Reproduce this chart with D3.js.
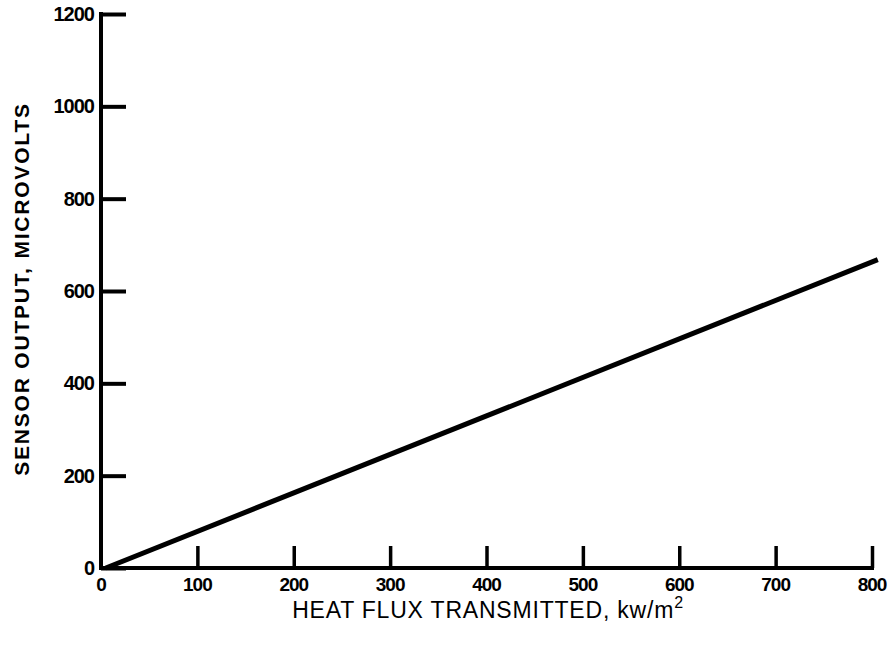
<!DOCTYPE html>
<html>
<head>
<meta charset="utf-8">
<script src="https://cdn.jsdelivr.net/npm/d3@7"></script>
<style>
body { margin: 0; background: #fff; }
text { font-family: "Liberation Sans", Arial, sans-serif; fill: #000; }
</style>
</head>
<body>
<div id="chart"></div>
<script>
var xTicks = [0, 100, 200, 300, 400, 500, 600, 700, 800];
var yTicks = [0, 200, 400, 600, 800, 1000, 1200];
var fluxValues = [5, 806];
var outputValues = [0, 668];

var width = 891, height = 646;
var svg = d3.select("#chart").append("svg")
	.attr("width", width)
	.attr("height", height);

var x = d3.scaleLinear().domain([0, 800]).range([101, 872]);
var y = d3.scaleLinear().domain([0, 1200]).range([568, 14]);

// y axis, ticks point right into the plot
var yAxis = d3.axisRight(y).tickValues(yTicks).tickSize(25).tickFormat("");
var gy = svg.append("g").attr("transform", "translate(" + x(0) + ",0)").call(yAxis);
gy.select(".domain").remove();
gy.selectAll(".tick line").attr("stroke", "#000").attr("stroke-width", 4);
svg.append("line")
	.attr("x1", x(0)).attr("x2", x(0))
	.attr("y1", y(1200) - 2).attr("y2", y(0) + 2)
	.attr("stroke", "#000").attr("stroke-width", 4);

svg.selectAll(".ylab").data(yTicks).enter().append("text")
	.attr("x", x(0) - 7)
	.attr("y", function(d){ return y(d) + 7; })
	.style("text-anchor", "end")
	.style("font-size", "20px")
	.style("font-weight", "bold")
	.style("letter-spacing", "-1px")
	.text(function(d){ return d; });

// x axis, ticks point up
var xAxis = d3.axisTop(x).tickValues(xTicks.slice(1)).tickSize(22).tickFormat("");
var gx = svg.append("g").attr("transform", "translate(0," + y(0) + ")").call(xAxis);
gx.select(".domain").remove();
gx.selectAll(".tick line").attr("stroke", "#000").attr("stroke-width", 3.5);
svg.append("line")
	.attr("x1", x(0) - 2).attr("x2", x(800) + 2)
	.attr("y1", y(0)).attr("y2", y(0))
	.attr("stroke", "#000").attr("stroke-width", 4);

svg.selectAll(".xlab").data(xTicks).enter().append("text")
	.attr("x", function(d){ return x(d); })
	.attr("y", y(0) + 23)
	.style("text-anchor", "middle")
	.style("font-size", "19px")
	.style("font-weight", "bold")
	.style("letter-spacing", "-1px")
	.text(function(d){ return d; });

// response line
var pts = fluxValues.map(function(d, i){ return [d, outputValues[i]]; });
svg.append("path")
	.attr("d", d3.line().x(function(d){ return x(d[0]); }).y(function(d){ return y(d[1]); })(pts))
	.attr("fill", "none")
	.attr("stroke", "#000")
	.attr("stroke-width", 5);

// axis titles
var xt = svg.append("text")
	.attr("x", 488)
	.attr("y", 618)
	.style("text-anchor", "middle")
	.style("font-size", "23px")
	.style("letter-spacing", "0.8px");
xt.append("tspan").text("HEAT FLUX TRANSMITTED, kw/m");
xt.append("tspan").attr("dy", -10).style("font-size", "16px").text("2");

svg.append("text")
	.attr("transform", "translate(29,289) rotate(-90)")
	.style("text-anchor", "middle")
	.style("font-size", "21px")
	.style("font-weight", "bold")
	.style("letter-spacing", "1.8px")
	.text("SENSOR OUTPUT, MICROVOLTS");
</script>
</body>
</html>
